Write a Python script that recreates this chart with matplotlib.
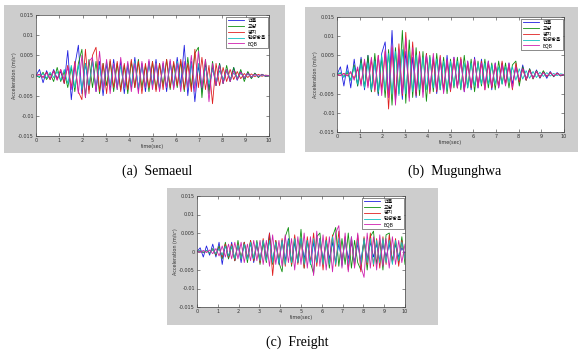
import numpy as np
import matplotlib
matplotlib.use('Agg')
import matplotlib.pyplot as plt
from matplotlib.patches import Rectangle

labels = ['건물', '교량', '평지', '탄성방음', 'EQB']
colors = ['#2020e0', '#109010', '#e02020', '#10c0c0', '#d020b0']

# acceleration values in 1e-3 m/s^2, evenly spaced over 0..10 sec
# (a) Semaeul
a_bldg = [0, 1.5, -1.8, 1.2, -1.0, 1.5, -0.8, 1.0, -2.0, 6.2, -6.0, 2.5, 7.5, -4.5, 3.0, -3.5, 4.0, -4.0, 3.5,
          -5.0, 3.0, -3.5, 4.0, -3.0, 3.5, -4.5, 2.5, -3.0, 4.5, -3.5, 3.0, -4.0, 3.5, -2.5, 4.0, -3.5, 3.0, -4.0,
          3.5, -3.0, 4.5, -2.5, 7.5, -5.0, 3.5, -6.5, 2.5, -4.0, 3.0, -3.5, 2.0, -2.5, 3.0, -2.0, 1.5, -1.5, 2.0,
          -1.2, 1.0, -0.8, 0.8, -0.6, 0.5, -0.4, 0.3, -0.2, 0]
a_bridge = [0, -0.5, 0.8, -1.0, 0.5, -1.5, 2.0, -1.5, 1.0, -3.0, 2.0, -4.0, 3.0, 6.5, -5.5, 4.0, -3.0, 3.5, -4.5,
            3.0, -2.5, 3.5, -4.0, 3.0, -3.5, 2.5, -4.5, 3.5, -3.0, 4.0, -3.0, 2.5, -4.0, 3.5, -3.5, 3.0, -2.5, 4.0,
            -3.5, 3.0, -3.0, 3.5, -4.0, 4.5, -3.0, 5.5, 7.0, -5.5, 4.0, -4.5, 3.5, -2.5, 3.0, -2.0, 2.5, -1.5, 2.0,
            -1.0, 1.5, -1.5, 1.0, -0.8, 0.6, -0.5, 0.3, -0.2, 0]
a_flat = [0, 0.3, -0.5, 0.8, -1.0, 1.2, -1.0, 1.5, -2.0, 2.5, -3.0, 3.5, -4.0, -6.0, 6.5, -4.5, 5.0, 7.0, -4.0, 3.0,
          -4.5, 4.0, -3.0, 3.5, -4.0, 3.0, -3.5, 4.0, -3.0, 3.5, -4.5, 3.0, -3.0, 3.5, -4.0, 3.0, -3.5, 4.0, -3.0,
          3.5, -2.5, 4.0, -3.5, 3.0, -4.0, 6.5, -3.0, 4.5, -3.5, 2.5, -7.0, 3.0, -2.5, 2.0, -1.5, 1.5, -1.0, 1.0,
          -0.8, 0.5, -0.5, 0.4, -0.3, 0.3, -0.2, 0.1, 0]
a_wall = [0, -0.3, 0.5, -0.6, 0.8, -0.5, 1.0, -1.2, 1.5, -2.0, 2.5, -3.0, 2.5, -3.5, 3.0, -2.5, 3.5, -3.0, 2.5,
          -3.0, 3.5, -2.5, 3.0, -3.5, 2.5, -3.0, 3.0, -2.5, 3.5, -3.0, 2.5, -3.0, 3.0, -2.5, 3.0, -3.5, 2.5, -3.0,
          3.0, -2.5, 3.5, -3.0, 2.5, -3.0, 3.0, -2.5, 3.0, -2.5, 2.0, -2.0, 1.5, -1.5, 1.2, -1.0, 1.0, -0.8, 0.6,
          -0.5, 0.5, -0.4, 0.3, -0.3, 0.2, -0.2, 0.1, 0, 0]
a_eqb = [0, 0.2, -0.4, 0.6, -0.8, 1.0, -1.2, 1.5, -1.0, 2.0, -3.5, 3.0, -4.5, 5.0, -5.5, 3.5, 4.5, -4.0, 6.0, -3.5,
         4.0, -4.5, 3.0, -3.5, 4.5, -3.0, 3.5, -4.0, 3.0, -4.5, 3.5, -3.0, 4.0, -3.5, 3.0, -4.0, 3.5, -3.0, 4.0,
         -3.5, 3.0, -4.0, 3.5, -3.0, 5.0, -4.0, 6.0, -3.0, 4.0, -6.5, 3.0, -2.5, 2.5, -2.0, 1.5, -1.5, 1.2, -1.0,
         0.8, -0.6, 0.5, -0.4, 0.3, -0.2, 0.2, -0.1, 0]

# (b) Mugunghwa
b_bldg = [0, 2.0, -3.0, 2.5, -3.5, 4.0, -3.0, 4.5, -4.0, 5.0, -4.5, 4.0, -5.5, 5.5, 8.5, -6.0, 11.5, -7.0, 5.0,
          -6.5, 6.0, -5.0, 4.5, -6.0, 5.0, -4.5, 5.5, -4.0, 4.5, -5.0, 4.0, -4.5, 5.0, -4.0, 4.5, -3.5, 4.0, -4.5,
          3.5, -4.0, 4.5, -3.5, 4.0, -3.0, 3.5, -4.0, 3.0, -3.5, 3.0, -2.5, 3.0, -2.5, 2.0, -2.0, 2.5, -1.5, 1.5,
          -1.0, 1.2, -1.0, 0.8, -1.0, 0.8, -0.6, 0.5, -0.4, 0]
b_bridge = [0, 0.3, -0.5, 0.5, -1.5, 2.5, -3.0, 4.0, -3.5, 5.0, -4.5, 5.5, -5.0, 4.5, -6.0, 6.5, -8.0, 7.0, -5.0,
            11.5, -7.5, 9.0, -6.0, 7.0, -5.5, 6.0, -7.0, 5.0, -4.5, 5.5, -4.0, 4.5, -5.0, 4.0, -3.5, 4.5, -4.0, 5.0,
            -3.5, 4.0, -4.5, 3.5, -3.0, 4.0, -3.5, 3.0, -4.0, 3.5, -2.5, 3.0, -3.5, 2.5, 3.5, -3.0, 2.0, -1.5, 1.5,
            -1.2, 1.0, -0.8, 1.0, -0.6, 0.5, -0.5, 0.3, -0.3, 0]
b_flat = [0, -0.2, 0.3, -0.3, 0.5, -1.0, 1.5, -2.5, 3.5, -3.0, 4.0, -4.5, 5.0, -4.0, 6.0, -9.0, 7.0, -6.0, 8.0,
          -5.5, 11.0, -6.0, 8.5, -5.5, 6.0, -4.5, 5.5, -5.0, 4.0, -4.5, 5.0, -4.0, 3.5, -4.5, 4.0, -3.5, 4.5, -4.0,
          3.0, -3.5, 4.0, -3.0, 3.5, -4.0, 3.0, -3.5, 2.5, -3.0, 3.5, -2.5, 2.5, -4.0, 3.0, -2.0, 1.5, -1.5, 1.2,
          -1.0, 0.8, -0.8, 0.6, -0.5, 0.5, -0.4, 0.3, -0.2, 0]
b_wall = [0, 0.5, -0.8, 1.0, -1.5, 2.0, -2.5, 3.0, -3.5, 3.0, -4.0, 3.5, -4.5, 5.0, -4.0, 5.5, -5.0, 6.0, -5.5,
          6.5, -5.0, 6.0, -4.5, 5.0, -4.0, 4.5, -4.0, 4.5, -3.5, 4.0, -4.0, 3.5, -4.0, 3.5, -3.0, 3.5, -3.5, 3.0,
          -3.5, 3.0, -3.0, 3.0, -2.5, 3.0, -2.5, 2.5, -2.5, 2.0, -2.5, 2.0, -2.0, 2.0, -1.5, 1.5, -1.2, 1.0, -1.0,
          0.8, -0.8, 0.6, -0.5, 0.5, -0.4, 0.3, -0.3, 0.2, 0]
b_eqb = [0, -0.3, 0.2, -0.4, 0.8, -1.5, 2.0, -3.0, 4.0, -3.5, 4.5, -4.0, 5.0, -5.5, 6.5, -6.0, 7.5, -8.0, 6.5,
         -5.0, 9.5, -7.0, 7.0, -4.5, 5.5, -6.0, 5.0, -4.5, 5.5, -4.0, 4.5, -5.0, 4.0, -4.0, 4.5, -3.5, 4.0, -4.5,
         3.5, -3.0, 4.0, -3.5, 3.0, -4.0, 3.5, -3.0, 3.0, -3.5, 2.5, -3.0, 3.0, -3.5, 2.0, -1.5, 1.5, -1.2, 1.0,
         -1.0, 0.8, -0.6, 0.5, -0.5, 0.4, -0.3, 0.2, -0.2, 0]

# (c) Freight
c_bldg = [0, 1.0, -1.5, 1.5, -1.0, 2.0, -1.5, 2.5, -3.5, 2.0, -2.0, 2.5, -2.5, 2.0, -3.0, 2.5, -2.0, 2.5, -3.0,
          2.0, -2.5, 3.0, -2.0, 5.0, -3.0, 2.5, -3.5, 3.0, -2.5, 3.5, -3.0, 2.5, -3.0, 3.5, -2.0, 3.0, -3.5, 2.5,
          -3.0, 3.5, -2.5, 3.0, -2.0, 2.5, -3.0, 2.0, -2.5, 3.0, -2.0, 2.5, -3.0, 2.0, -2.5, 3.0, -2.0, 2.5, -1.5,
          2.0, -2.5, 2.0, -1.5, 2.0, -2.5, 2.0, -1.5, 1.0, -0.5]
c_bridge = [0, 0.2, -0.3, 0.3, -0.5, 0.8, -1.0, 1.5, -2.0, 2.5, -2.0, 1.5, -2.5, 3.0, -2.0, 2.5, -3.0, 3.0, -2.5,
            3.0, -3.5, 2.5, -3.0, 4.0, -3.5, 3.0, -3.0, -5.5, 4.0, 6.5, -4.0, 3.5, -3.0, 6.0, -4.5, 3.0, -3.0,
            -6.0, 4.0, 5.0, -3.5, 3.0, -4.5, 4.0, 6.5, -4.0, 3.5, -3.5, 5.0, -4.5, 3.0, -3.0, -5.0, 3.5, -5.0, 4.0,
            5.5, -3.5, 3.0, -5.0, 4.5, 5.0, -3.0, 2.5, -3.0, 4.0, -3.5]
c_flat = [0, 0.1, -0.2, 0.2, -0.3, 0.5, -0.8, 1.0, -1.5, 2.0, -1.5, 2.0, -2.5, 2.0, -2.0, 2.5, -2.0, 3.0, -2.5,
          2.5, -3.0, 3.5, -2.5, 5.0, -6.5, 3.0, -2.5, 3.5, -4.0, 3.0, -3.5, 4.5, -3.5, 3.0, -4.5, 4.0, -3.0, 5.0,
          -4.0, 3.5, -5.0, 4.0, -3.5, 4.5, -4.0, 5.5, -3.5, 4.0, -5.0, 3.5, -4.0, 4.5, -5.5, 4.0, -3.5, 5.0, -4.0,
          3.5, -4.5, 4.0, -3.5, 4.5, -3.0, 3.5, -4.0, 3.0, -2.0]
c_wall = [0, 0.2, -0.2, 0.3, -0.4, 0.5, -0.6, 0.8, -1.0, 1.5, -1.2, 1.5, -2.0, 1.8, -2.0, 2.0, -2.2, 2.5, -2.0,
          2.5, -2.5, 3.0, -2.5, 3.0, -3.0, 2.5, -3.0, 3.0, -3.5, 3.0, -3.0, 3.5, -3.0, 3.5, -3.5, 3.0, -3.5, 3.5,
          -3.0, 3.5, -3.5, 3.0, -3.5, 4.0, -3.5, 3.5, -4.0, 3.5, -3.5, 4.0, -3.5, 3.0, -3.5, 3.5, -3.0, 3.5, -3.5,
          3.0, -3.0, 3.5, -3.0, 3.0, -3.5, 3.0, -2.5, 2.5, -2.0]
c_eqb = [0, -0.2, 0.3, -0.3, 0.4, -0.6, 0.8, -1.2, 1.5, -1.5, 2.0, -2.0, 2.5, -2.0, 2.5, -3.0, 2.0, -2.5, 3.0,
         -2.5, 3.0, -3.5, 3.0, -4.0, 4.5, -3.5, 3.0, -4.0, 4.5, -3.0, 3.5, -5.0, 4.0, -3.5, 5.0, -4.5, 4.0, -6.5,
         5.5, -4.0, 4.5, -5.0, 4.0, -5.5, 5.0, 7.0, -4.5, 5.0, -5.5, 4.0, -4.5, 5.0, -4.0, -7.0, 5.0, -4.5, 4.0,
         -5.0, 4.5, -4.0, 3.5, -4.5, 4.0, -3.5, 3.0, -3.0, 2.0]

yticks = [-0.015, -0.01, -0.005, 0, 0.005, 0.01, 0.015]
ytick_labels = ['-0.015', '-0.01', '-0.005', '0', '0.005', '0.01', '0.015']
xticks = list(range(0, 11))

W, H = 579, 350
fig = plt.figure(figsize=(W / 100, H / 100), dpi=100)
fig.patch.set_facecolor('white')


def frac(x0, y0, x1, y1):
    # pixel box (top-left origin) -> figure fraction
    return [x0 / W, 1 - y1 / H, (x1 - x0) / W, (y1 - y0) / H]


def panel(grey_box, ax_box, series, caption, cap_xy):
    gx, gy, gw, gh = frac(*grey_box)
    fig.patches.append(Rectangle((gx, gy), gw, gh, transform=fig.transFigure,
                                 facecolor='#cdcdcd', edgecolor='none', zorder=-5))
    ax = fig.add_axes(frac(*ax_box))
    ax.set_zorder(2)
    ax.set_facecolor('white')
    for vals, lab, col in zip(series, labels, colors):
        t = np.linspace(0, 10, len(vals))
        ax.plot(t, np.array(vals) * 1e-3, color=col, lw=0.6, label=lab)
    ax.set_xlim(0, 10)
    ax.set_ylim(-0.015, 0.015)
    ax.set_xticks(xticks)
    ax.set_yticks(yticks)
    ax.set_yticklabels(ytick_labels)
    ax.tick_params(direction='in', length=2, width=0.4, labelsize=3.5, pad=1.5,
                   top=True, right=True, colors='#333333')
    for s in ax.spines.values():
        s.set_linewidth(0.5)
        s.set_color('#444444')
    ax.set_xlabel('time(sec)', fontsize=3.5, labelpad=1, color='#333333')
    ax.set_ylabel('Acceleration (m/s²)', fontsize=3.5, labelpad=1, color='#333333')
    leg = ax.legend(loc='upper right', handlelength=3.2, borderpad=0.3,
                    labelspacing=0.15, fancybox=False, framealpha=1, edgecolor='#333333',
                    borderaxespad=0.3, prop={'family': ['Noto Sans CJK KR', 'DejaVu Sans'], 'size': 3.6})
    leg.get_frame().set_linewidth(0.4)
    fig.text(cap_xy[0] / W, 1 - cap_xy[1] / H, caption, ha='center', va='center',
             fontsize=10, family='Liberation Serif')
    return ax


panel((4, 5, 285, 153), (36, 15, 269, 136),
      [a_bldg, a_bridge, a_flat, a_wall, a_eqb], '(a)  Semaeul', (157, 171))
panel((305, 7, 578, 152), (337, 17, 564, 132),
      [b_bldg, b_bridge, b_flat, b_wall, b_eqb], '(b)  Mugunghwa', (455, 171))
panel((167, 188, 438, 325), (197, 196, 405, 307),
      [c_bldg, c_bridge, c_flat, c_wall, c_eqb], '(c)  Freight', (297, 342))

fig.savefig('out.png', dpi=100)
